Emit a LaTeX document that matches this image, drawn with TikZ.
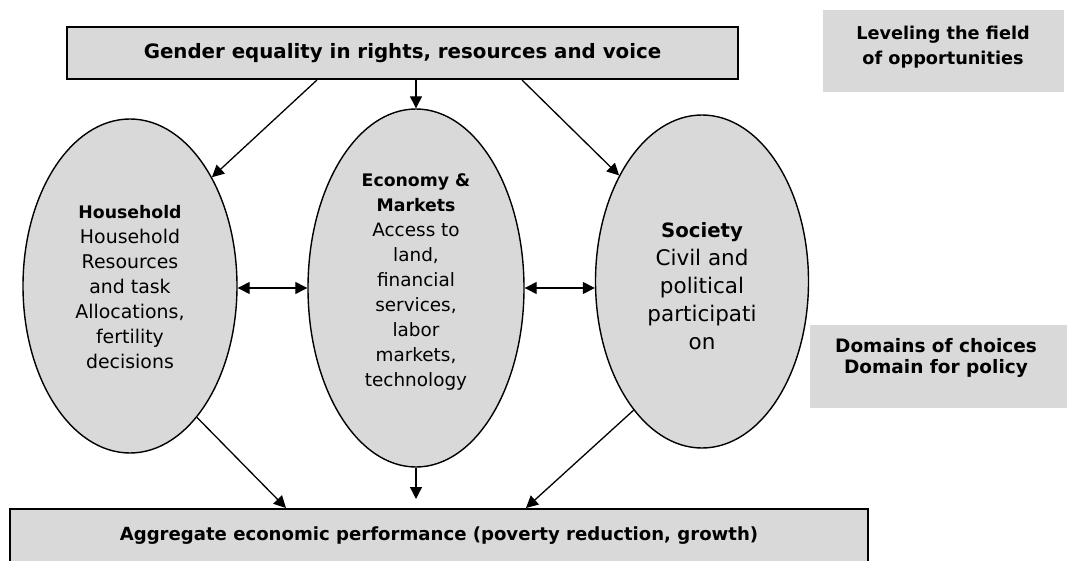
\documentclass[tikz,border=0pt]{standalone}
\usepackage{fontspec}
\setmainfont{DejaVu Sans}
\usetikzlibrary{arrows.meta,shapes.geometric,calc}
\definecolor{fillgray}{RGB}{217,217,217}
\begin{document}
\begin{tikzpicture}[x=1pt,y=-1pt,
  box/.style={draw=black, line width=2pt, fill=fillgray, inner sep=0pt},
  plainbox/.style={fill=fillgray, inner sep=0pt},
  oval/.style={ellipse, draw=black, line width=1.4pt, fill=fillgray, inner sep=0pt},
  txt/.style={align=center, inner sep=0pt},
  arr/.style={line width=1.3pt, -{Triangle[length=12pt,width=12pt]}},
  darr/.style={line width=1.3pt, {Triangle[length=12pt,width=12pt]}-{Triangle[length=12pt,width=12pt]}}]
\useasboundingbox (0,0) rectangle (1067,561);
\clip (0,0) rectangle (1067,561);

% boxes
\node[box, minimum width=671pt, minimum height=52pt, font=\fontsize{19.8}{24}\selectfont\bfseries] (top) at (402.5,53)
  {Gender equality in rights, resources and voice};
\node[plainbox, minimum width=241pt, minimum height=82pt] (lev) at (943.5,51) {};
\node[txt, font=\fontsize{17.7}{25}\selectfont\bfseries] (levtext) at (943,47)
  {Leveling the field\\of opportunities};
\node[plainbox, minimum width=262pt, minimum height=83pt] (dom) at (941,366.5) {};
\node[txt, font=\fontsize{18.5}{21}\selectfont\bfseries] (domtext) at (936,358)
  {Domains of choices\\Domain for policy};
\node[box, minimum width=858pt, minimum height=54pt, font=\fontsize{18.1}{24}\selectfont\bfseries] (bot) at (439,536)
  {Aggregate economic performance (poverty reduction, growth)};

% ellipses
\node[oval, minimum width=214pt, minimum height=334pt] (hh) at (130,286) {};
\node[oval, minimum width=216pt, minimum height=358pt] (econ) at (416,288) {};
\node[oval, minimum width=213pt, minimum height=333pt] (soc) at (702,281.5) {};

\node[txt, font=\fontsize{18.9}{25}\selectfont] (hhtext) at (130,287)
  {{\fontsize{17.3}{25}\selectfont\bfseries Household}\\Household\\Resources\\and task\\Allocations,\\fertility\\decisions};
\node[txt, font=\fontsize{18.4}{25}\selectfont] (econtext) at (416,282)
  {{\fontsize{17.3}{25}\selectfont\bfseries Economy \&}\\{\fontsize{17.3}{25}\selectfont\bfseries Markets}\\Access to\\land,\\financial\\services,\\labor\\markets,\\technology};
\node[txt, font=\fontsize{21.5}{28}\selectfont] (soctext) at (702,286)
  {{\fontsize{19.7}{28}\selectfont\bfseries Society}\\Civil and\\political\\participati\\on};

% connector end points on the boxes
\coordinate (t1) at ($(top.south west)+(251,0)$);
\coordinate (t3) at ($(top.south west)+(456,0)$);
\coordinate (b1) at ($(bot.north west)+(277,0)$);
\coordinate (b3) at ($(bot.north west)+(517,0)$);
\coordinate (b2) at ($(econ.south |- bot.north)+(0,-9)$);

% arrows from top
\draw[arr] (t1) -- (hh.53);
\draw[arr] (econ.north |- top.south) -- (econ.north);
\draw[arr] (t3) -- (soc.128);

% double arrows
\draw[darr] (hh.east |- econ.west) -- (econ.west);
\draw[darr] (econ.east) -- (soc.west |- econ.east);

% arrows to bottom
\draw[arr] (hh.-63) -- (b1);
\draw[arr] (econ.south) -- (b2);
\draw[arr] (soc.-118) -- (b3);
\end{tikzpicture}
\end{document}
